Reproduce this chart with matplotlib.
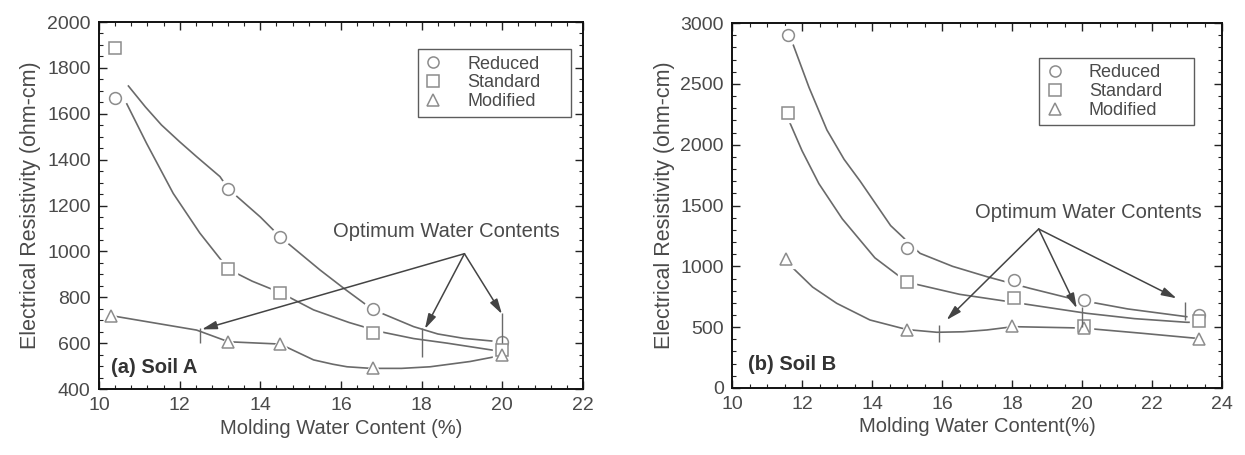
import matplotlib
matplotlib.use("Agg")
import matplotlib.pyplot as plt
from matplotlib.ticker import MultipleLocator
from matplotlib.lines import Line2D

plt.rcParams['font.family'] = ['Liberation Sans', 'DejaVu Sans']

# ---------------- Data: Soil A ----------------
a_red_x = [10.4, 13.2, 14.5, 16.8, 20.0]
a_red_y = [1670, 1272, 1062, 747, 605]
a_std_x = [10.4, 13.2, 14.5, 16.8, 20.0]
a_std_y = [1885, 922, 820, 645, 570]
a_mod_x = [10.3, 13.2, 14.5, 16.8, 20.0]
a_mod_y = [720, 605, 595, 490, 550]

# fitted curves
a_red_cx = [10.73, 11.15, 11.55, 12.0, 12.42, 13.0, 13.21, 14.0, 14.5, 15.48, 16.1, 16.78, 17.8, 18.4, 19.04, 20.0]
a_red_cy = [1721, 1630, 1551, 1478, 1413, 1326, 1272, 1150, 1062, 919, 835, 747, 672, 640, 621, 605]
a_std_cx = [10.69, 11.18, 11.84, 12.5, 13.21, 13.8, 14.5, 15.32, 16.2, 16.97, 17.8, 18.63, 20.0]
a_std_cy = [1643, 1471, 1253, 1080, 922, 870, 820, 745, 690, 650, 620, 600, 563]
a_mod_cx = [10.3, 12.42, 13.21, 14.49, 15.32, 15.8, 16.15, 16.75, 17.5, 18.21, 19.2, 20.03]
a_mod_cy = [720, 657, 606, 596, 527, 508, 497, 490, 490, 497, 520, 548]

a_opt_x = [12.5, 18.0, 20.0]
a_opt_lo = [600, 540, 600]
a_opt_hi = [665, 666, 730]
a_arrow_from = (19.06, 990)
a_arrow_to_x = [12.55, 18.08, 19.99]
a_arrow_to_y = [660, 662, 727]

# ---------------- Data: Soil B ----------------
b_red_x = [11.6, 15.0, 18.05, 20.05, 23.35]
b_red_y = [2900, 1150, 890, 725, 600]
b_std_x = [11.6, 15.0, 18.05, 20.05, 23.35]
b_std_y = [2262, 870, 740, 510, 550]
b_mod_x = [11.55, 15.0, 18.0, 20.05, 23.35]
b_mod_y = [1060, 475, 510, 490, 400]

b_red_cx = [11.75, 12.2, 12.71, 13.2, 13.66, 14.53, 15.37, 16.3, 17.28, 18.5, 19.66, 21.3, 22.99]
b_red_cy = [2819, 2470, 2121, 1880, 1700, 1335, 1107, 1000, 915, 820, 737, 650, 586]
b_std_cx = [11.66, 12.0, 12.48, 13.15, 14.08, 15.0, 16.5, 18.23, 20.13, 21.5, 22.99, 23.3]
b_std_cy = [2175, 1950, 1680, 1390, 1070, 870, 770, 696, 614, 570, 540, 540]
b_mod_cx = [11.7, 12.3, 12.99, 13.94, 15.0, 15.85, 16.6, 17.28, 18.03, 20.0, 21.7, 23.28]
b_mod_cy = [997, 830, 696, 559, 480, 458, 462, 477, 504, 493, 450, 408]

b_opt_x = [15.9, 20.0, 22.94]
b_opt_lo = [380, 504, 559]
b_opt_hi = [518, 668, 710]
b_arrow_from = (18.76, 1307)
b_arrow_to_x = [16.13, 19.85, 22.7]
b_arrow_to_y = [559, 655, 737]

legend_labels = ['Reduced', 'Standard', 'Modified']
markers = ['o', 's', '^']

LINE = '#6a6a6a'
MARK = '#8c8c8c'
TXT = '#4a4a4a'

fig = plt.figure(figsize=(12.45, 4.55), dpi=100)
axA = fig.add_axes([0.0795, 0.145, 0.3888, 0.8066])
axB = fig.add_axes([0.588, 0.1473, 0.3936, 0.802])


def draw(ax, series, curves, opt_x, opt_lo, opt_hi, afrom, ato_x, ato_y):
    for cx, cy in curves:
        ax.plot(cx, cy, color=LINE, lw=1.2, zorder=2, solid_joinstyle='round')
    for (x, y), m in zip(series, markers):
        ms = 8 if m != 'o' else 8.5
        ax.plot(x, y, ls='none', marker=m, ms=ms + 5, mfc='white', mec='white', zorder=3)
        ax.plot(x, y, ls='none', marker=m, ms=ms, mfc='white', mec=MARK, mew=1.1, zorder=4)
    ax.vlines(opt_x, opt_lo, opt_hi, color=LINE, lw=1.0, zorder=5)
    for tx, ty in zip(ato_x, ato_y):
        ax.annotate('', xy=(tx, ty), xytext=afrom,
                    arrowprops=dict(arrowstyle='-|>,head_length=0.9,head_width=0.25',
                                    color='#444444', lw=1.1, shrinkA=0, shrinkB=0),
                    zorder=6)
    handles = [Line2D([], [], ls='none', marker=m, ms=8, mfc='white', mec=MARK, mew=1.1)
               for m in markers]
    return handles


hA = draw(axA, [(a_red_x, a_red_y), (a_std_x, a_std_y), (a_mod_x, a_mod_y)],
          [(a_red_cx, a_red_cy), (a_std_cx, a_std_cy), (a_mod_cx, a_mod_cy)],
          a_opt_x, a_opt_lo, a_opt_hi, a_arrow_from, a_arrow_to_x, a_arrow_to_y)
hB = draw(axB, [(b_red_x, b_red_y), (b_std_x, b_std_y), (b_mod_x, b_mod_y)],
          [(b_red_cx, b_red_cy), (b_std_cx, b_std_cy), (b_mod_cx, b_mod_cy)],
          b_opt_x, b_opt_lo, b_opt_hi, b_arrow_from, b_arrow_to_x, b_arrow_to_y)

axA.set_xlim(10, 22)
axA.set_ylim(400, 2000)
axA.xaxis.set_major_locator(MultipleLocator(2))
axA.xaxis.set_minor_locator(MultipleLocator(0.4))
axA.yaxis.set_major_locator(MultipleLocator(200))
axA.yaxis.set_minor_locator(MultipleLocator(50))

axB.set_xlim(10, 24)
axB.set_ylim(0, 3000)
axB.xaxis.set_major_locator(MultipleLocator(2))
axB.xaxis.set_minor_locator(MultipleLocator(0.5))
axB.yaxis.set_major_locator(MultipleLocator(500))
axB.yaxis.set_minor_locator(MultipleLocator(100))

for ax in (axA, axB):
    for s in ax.spines.values():
        s.set_color('#111111')
        s.set_linewidth(1.4)
    ax.tick_params(which='both', direction='in', top=True, right=True, colors='#222222',
                   labelcolor=TXT, labelsize=14, pad=6)
    ax.tick_params(which='major', length=6, width=1.0)
    ax.tick_params(which='minor', length=3, width=0.8)
    ax.set_ylabel('Electrical Resistivity (ohm-cm)', fontsize=15.5, color=TXT, labelpad=4)

axA.set_xlabel('Molding Water Content (%)', fontsize=14.5, color=TXT, labelpad=3)
axB.set_xlabel('Molding Water Content(%)', fontsize=14.5, color=TXT, labelpad=3)

axA.text(15.8, 1085, 'Optimum Water Contents', fontsize=14.5, color=TXT, va='center', ha='left')
axB.text(16.93, 1445, 'Optimum Water Contents', fontsize=14.5, color=TXT, va='center', ha='left')

axA.text(0.025, 0.06, '(a) Soil A', transform=axA.transAxes, fontsize=14.5,
         fontweight='bold', color='#333333', va='center')
axB.text(0.033, 0.065, '(b) Soil B', transform=axB.transAxes, fontsize=14.5,
         fontweight='bold', color='#333333', va='center')

for ax, h, bb in ((axA, hA, (0.659, 0.739, 0.316, 0.19)),
                  (axB, hB, (0.627, 0.716, 0.315, 0.192))):
    leg = ax.legend(h, legend_labels, loc='center', bbox_to_anchor=bb, mode='expand',
                    frameon=True, fancybox=False, fontsize=13, labelcolor=TXT,
                    handletextpad=1.4, borderpad=0.35, labelspacing=0.1,
                    handlelength=1.0, borderaxespad=0)
    leg.get_frame().set_edgecolor('#333333')
    leg.get_frame().set_linewidth(1.0)

fig.savefig('out.png', dpi=100, facecolor='white')
